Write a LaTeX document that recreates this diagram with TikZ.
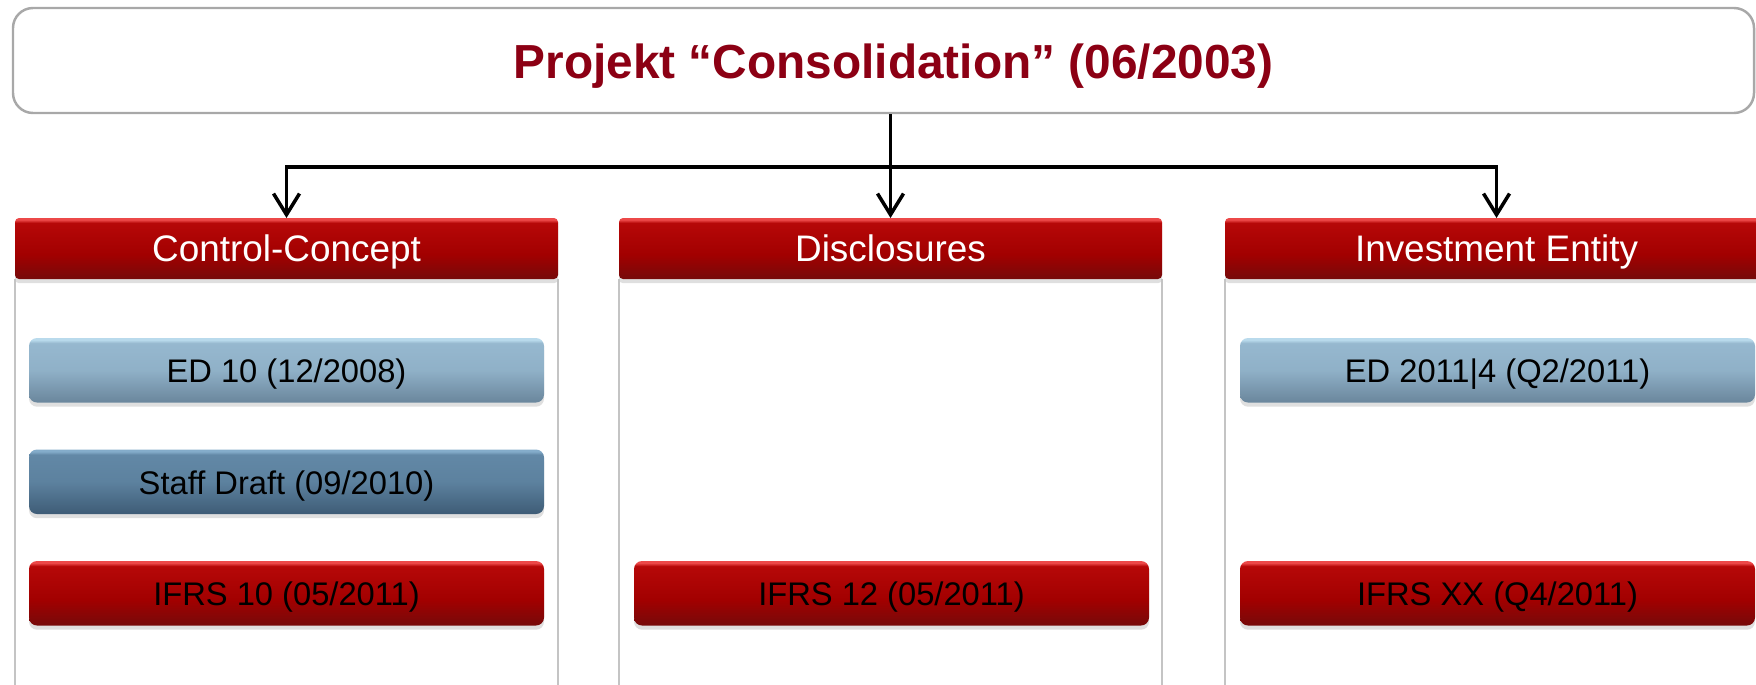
\documentclass[tikz,border=0pt]{standalone}
\usepackage{fontspec}
\setmainfont{Liberation Sans}
\usetikzlibrary{arrows.meta, positioning, shadows}

\definecolor{titlered}{RGB}{140,0,20}
\definecolor{redhi}{RGB}{236,72,72}
\definecolor{redtop}{RGB}{182,8,8}
\definecolor{redmid}{RGB}{162,0,0}
\definecolor{redbot}{RGB}{118,10,10}
\definecolor{edhi}{RGB}{185,218,236}
\definecolor{edtop}{RGB}{150,184,207}
\definecolor{edbot}{RGB}{106,134,156}
\definecolor{sdhi}{RGB}{132,172,202}
\definecolor{sdtop}{RGB}{98,136,166}
\definecolor{sdbot}{RGB}{62,92,118}
\definecolor{framegray}{RGB}{168,168,168}
\definecolor{panelgray}{RGB}{196,196,196}

\pgfdeclareverticalshading{redbar}{100bp}{color(0bp)=(redbot); color(25bp)=(redbot); color(45bp)=(redmid); color(71bp)=(redtop); color(73.5bp)=(redhi); color(100bp)=(redhi)}
\pgfdeclareverticalshading{edbar}{100bp}{color(0bp)=(edbot); color(25bp)=(edbot); color(50bp)=(edtop!85!edbot); color(71bp)=(edtop); color(73.5bp)=(edhi); color(100bp)=(edhi)}
\pgfdeclareverticalshading{sdbar}{100bp}{color(0bp)=(sdbot); color(25bp)=(sdbot); color(50bp)=(sdtop!85!sdbot); color(71bp)=(sdtop); color(73.5bp)=(sdhi); color(100bp)=(sdhi)}

\begin{document}
\begin{tikzpicture}[> = {Straight Barb[length=6pt, width=7.4pt]},
  titlebox/.style = {draw=framegray, line width=0.7pt, fill=white, rounded corners=0.2cm,
    minimum width=17.41cm, minimum height=1.05cm, text=titlered,
    text height=0.72em, text depth=0pt,
    font=\fontsize{13.6}{16}\selectfont\bfseries},
  hdr/.style = {shade, shading=redbar, rounded corners=0.04cm, outer sep=0pt, inner sep=0pt,
    minimum width=5.43cm, minimum height=0.61cm, text=white, font=\fontsize{10.5}{12}\selectfont,
    text height=0.72em, text depth=0pt,
    drop shadow={shadow xshift=0pt, shadow yshift=-1.2pt, opacity=0.25}},
  item/.style = {shade, rounded corners=0.08cm, outer sep=0pt, inner sep=0pt,
    minimum width=5.15cm, minimum height=0.645cm, text=black, font=\fontsize{9.3}{11}\selectfont,
    text height=0.72em, text depth=0pt,
    drop shadow={shadow xshift=0pt, shadow yshift=-1.2pt, opacity=0.25}},
  edbox/.style = {item, shading=edbar},
  staffbox/.style = {item, shading=sdbar},
  ifrsbox/.style = {item, shading=redbar},
  panel/.style = {draw=panelgray, line width=0.4pt},
  conn/.style = {->, line width=1pt}]

\useasboundingbox (0,0) rectangle (17.56,-6.84);

\node[titlebox]		(title)		at (8.835,-0.605)		{\hspace*{0.2cm}\raisebox{-0.05cm}{Projekt “Consolidation” (06/2003)}};

% columns
\node[hdr]			(hdrA)		at (2.865,-2.485)		{Control-Concept};
\node[hdr]			(hdrB)		[right=0.61cm of hdrA]	{Disclosures};
\node[hdr]			(hdrC)		[right=0.63cm of hdrB]	{Investment Entity};

\foreach \h in {hdrA, hdrB, hdrC}
  \draw[panel] (\h.south west) -- ++(0,-4.2) (\h.south east) -- ++(0,-4.2);

% documents
\node[edbox]		(edA)		[below=0.59cm of hdrA]		{ED 10 (12/2008)};
\node[staffbox]		(staffA)	[below=0.47cm of edA]		{Staff Draft (09/2010)};
\node[ifrsbox]		(ifrsA)		[below=0.47cm of staffA]	{IFRS 10 (05/2011)};
\node[ifrsbox]		(ifrsB)		[right=0.90cm of ifrsA]		{IFRS 12 (05/2011)};
\node[ifrsbox]		(ifrsC)		[right=0.91cm of ifrsB]		{IFRS XX (Q4/2011)};
\node[edbox]		(edC)		at (ifrsC |- edA)			{ED 2011|4 (Q2/2011)};

% connectors
\coordinate (fork) at (hdrB.north |- 0,-1.67);
\draw[conn] (title.south -| hdrB.north) -- (hdrB.north);
\draw[conn] (fork) -| (hdrA.north);
\draw[conn] (fork) -| (hdrC.north);

\end{tikzpicture}
\end{document}
